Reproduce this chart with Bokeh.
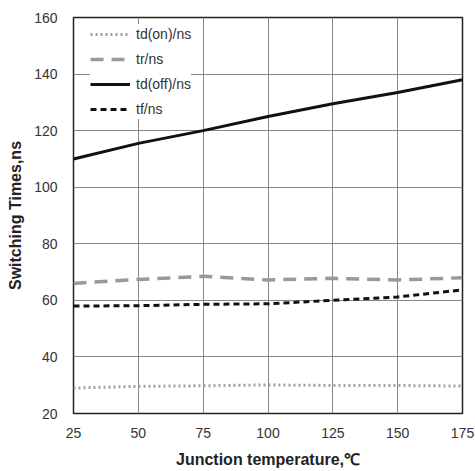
from bokeh.plotting import figure
from bokeh.models import Legend, LegendItem, Range1d, FixedTicker
from bokeh.embed import file_html
from bokeh.resources import INLINE

temps = [25, 50, 75, 100, 125, 150, 175]
td_on = [29.0, 29.6, 29.8, 30.1, 29.9, 29.9, 29.7]
tr = [66.0, 67.4, 68.5, 67.2, 67.8, 67.2, 68.0]
td_off = [110.0, 115.5, 120.0, 125.0, 129.5, 133.5, 138.0]
tf = [58.0, 58.1, 58.6, 58.8, 60.0, 61.2, 63.7]

x_ticks = [25, 50, 75, 100, 125, 150, 175]
y_ticks = [20, 40, 60, 80, 100, 120, 140, 160]

FONT = "Liberation Sans"

p = figure(width=475, height=471, output_backend="svg", toolbar_location=None,
           x_range=Range1d(25, 175), y_range=Range1d(20, 160),
           min_border_left=73, min_border_right=13, min_border_top=17, min_border_bottom=58)

p.outline_line_color = "#222222"
p.outline_line_width = 1.5

for ax in (p.xaxis[0], p.yaxis[0]):
    ax.axis_line_color = None
    ax.major_tick_line_color = None
    ax.minor_tick_line_color = None
    ax.major_label_text_font = FONT
    ax.major_label_text_font_size = "14px"
    ax.major_label_text_color = "#333333"
    ax.axis_label_text_font = FONT
    ax.axis_label_text_font_style = "bold"
    ax.axis_label_text_font_size = "16px"
    ax.axis_label_text_color = "#222222"

p.xaxis.ticker = FixedTicker(ticks=x_ticks)
p.yaxis.ticker = FixedTicker(ticks=y_ticks)
p.xaxis.axis_label = "Junction temperature,℃"
p.yaxis.axis_label = "Switching Times,ns"
p.xaxis.major_label_standoff = 8
p.yaxis.major_label_standoff = 10
p.xaxis.axis_label_standoff = 10
p.yaxis.axis_label_standoff = 7

p.xgrid.grid_line_color = "#888888"
p.ygrid.grid_line_color = "#888888"
p.xgrid.grid_line_width = 1
p.ygrid.grid_line_width = 1

r1 = p.line(temps, td_on, line_color="#a0a0a0", line_width=3, line_dash="2 3")
r2 = p.line(temps, tr, line_color="#999999", line_width=3.5, line_dash="13 8")
r3 = p.line(temps, td_off, line_color="#111111", line_width=3)
r4 = p.line(temps, tf, line_color="#111111", line_width=3, line_dash="6 4")

legend = Legend(items=[
    LegendItem(label="td(on)/ns", renderers=[r1]),
    LegendItem(label="tr/ns", renderers=[r2]),
    LegendItem(label="td(off)/ns", renderers=[r3]),
    LegendItem(label="tf/ns", renderers=[r4]),
], location=(17, 294))
legend.border_line_color = None
legend.background_fill_color = "white"
legend.background_fill_alpha = 1
legend.label_text_font = FONT
legend.label_text_font_size = "14px"
legend.label_text_color = "#333333"
legend.glyph_width = 40
legend.glyph_height = 20
legend.label_height = 20
legend.spacing = 5
legend.label_standoff = 6
legend.margin = 0
legend.padding = 4
p.add_layout(legend)

open("out.html", "w").write(file_html(p, INLINE))
